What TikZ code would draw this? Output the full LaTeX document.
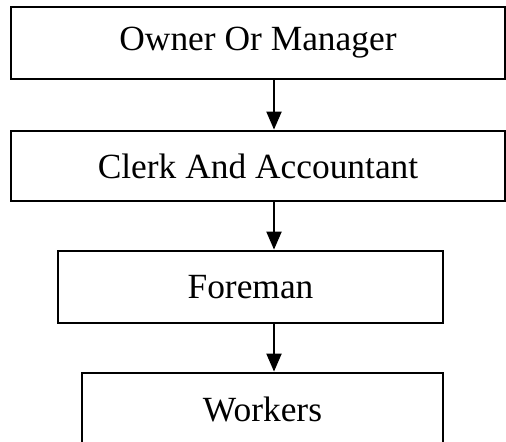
\documentclass[tikz,border=0pt]{standalone}
\usepackage{fontspec}
\setmainfont{Liberation Serif}
\usetikzlibrary{arrows.meta}
\begin{document}
\begin{tikzpicture}[x=0.5pt,y=-0.5pt,
  box/.style={draw,line width=1.4pt,rectangle,inner sep=0pt,
    font=\fontsize{17.7}{20}\selectfont},
  arr/.style={line width=1pt,-{Triangle[length=9pt,width=7.5pt]}}]
\useasboundingbox (0,0) rectangle (506,442);
\clip (0,0) rectangle (506,442);
\coordinate (ax) at (274,0);
\node[box,minimum width=247pt,minimum height=36pt] (b1) at (258,43) {Owner Or Manager};
\node[box,minimum width=247pt,minimum height=35pt] (b2) at (258,166) {Clerk And Accountant};
\node[box,minimum width=192.5pt,minimum height=36pt] (b3) at (250.5,287) {Foreman};
\node[box,minimum width=180.5pt,minimum height=36pt] (b4) at (262.5,409) {Workers};
\draw[arr] (b1.south -| ax) -- (b2.north -| ax);
\draw[arr] (b2.south -| ax) -- (b3.north -| ax);
\draw[arr] (b3.south -| ax) -- (b4.north -| ax);
\end{tikzpicture}
\end{document}
